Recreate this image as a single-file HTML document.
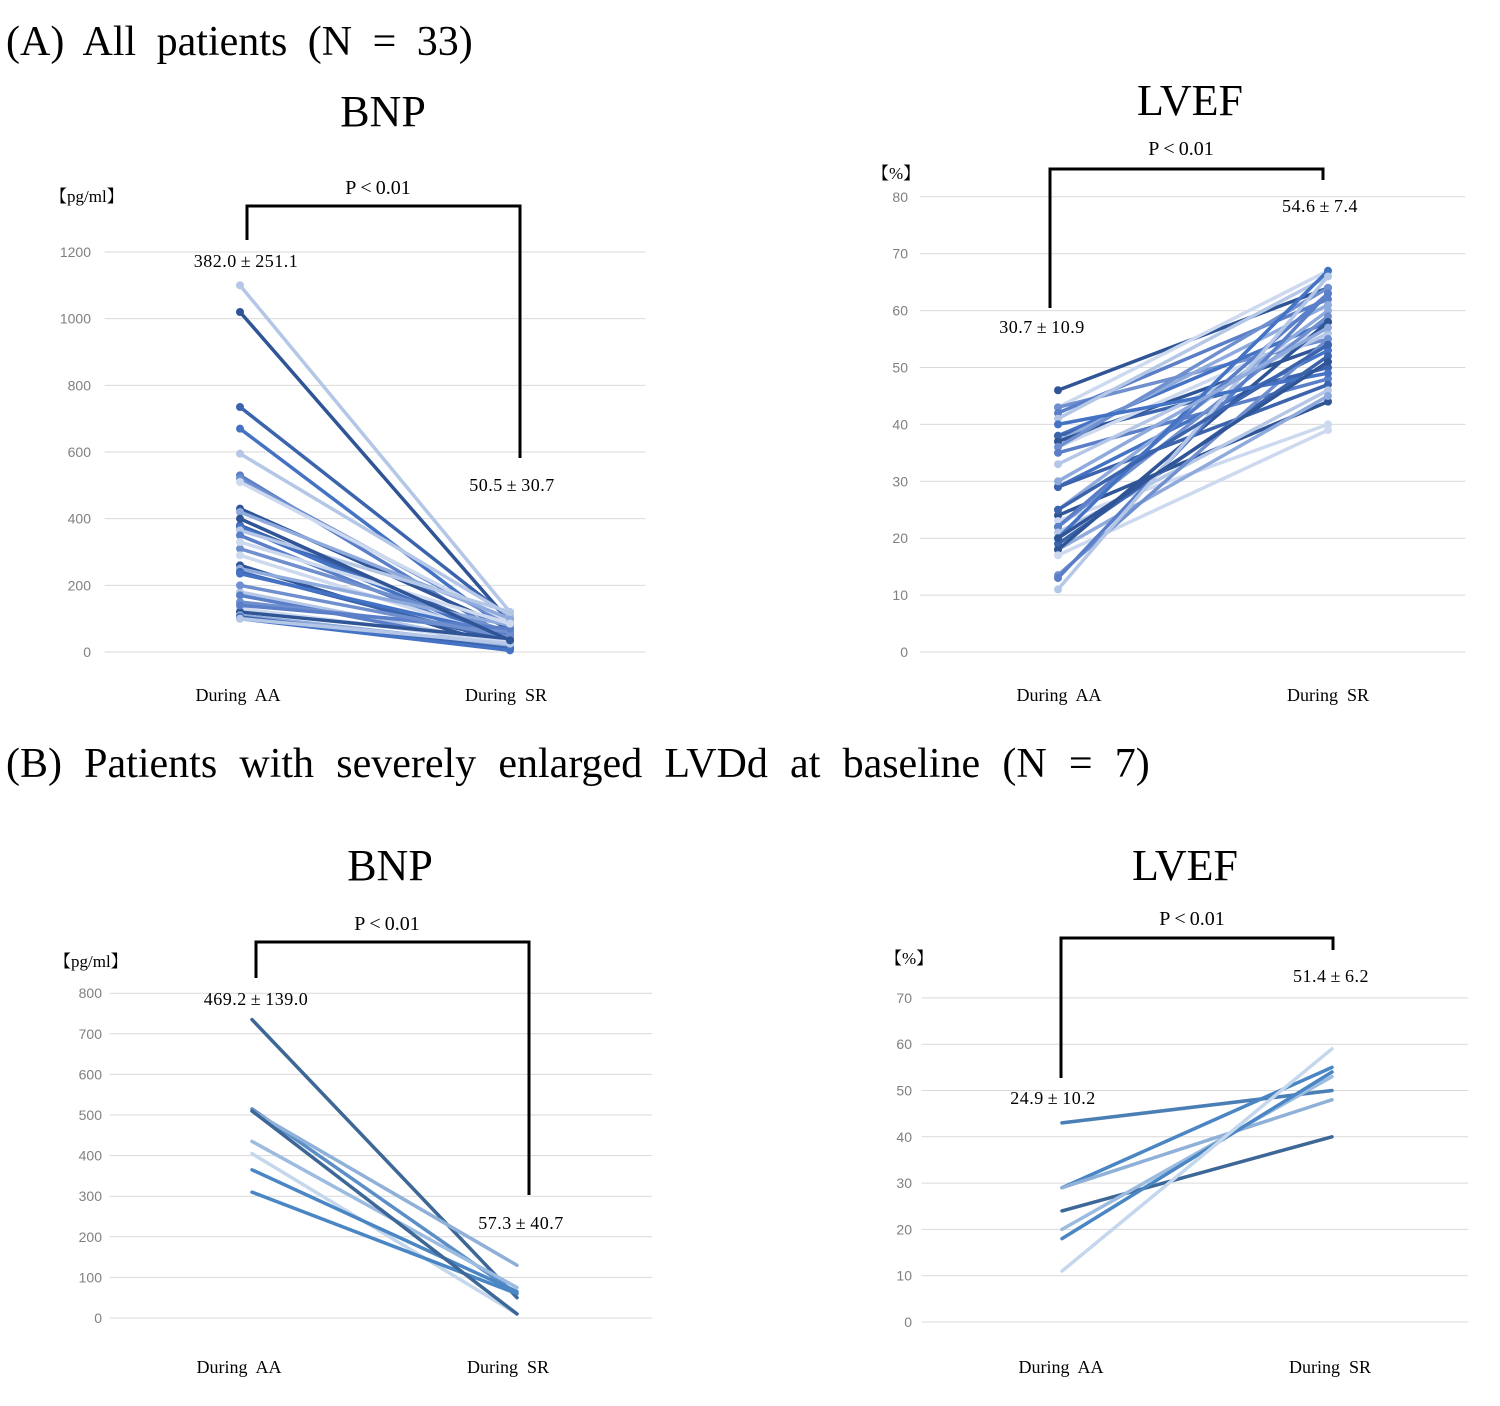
<!DOCTYPE html>
<html><head><meta charset="utf-8"><style>
html,body{margin:0;padding:0;background:#fff;width:1500px;height:1406px;overflow:hidden}
svg text{font-family:"Liberation Serif","Noto Serif CJK SC",serif;fill:#000}
.t{font-family:"Liberation Sans",sans-serif;fill:#808080;font-size:14px}
.n{letter-spacing:0.5px}
</style></head><body>
<svg id="s" width="1500" height="1406" xmlns="http://www.w3.org/2000/svg">
<text x="6" y="55" font-size="42" word-spacing="10">(A) All patients (N = 33)</text>
<text x="6" y="777" font-size="42" word-spacing="11.7">(B) Patients with severely enlarged LVDd at baseline (N = 7)</text>
<text x="383" y="126" font-size="44" text-anchor="middle">BNP</text>
<text x="1190" y="115" font-size="44" text-anchor="middle">LVEF</text>
<text x="390" y="880" font-size="44" text-anchor="middle">BNP</text>
<text x="1185" y="880" font-size="44" text-anchor="middle">LVEF</text>
<g id="g"></g>
</svg>
<script>
var g=document.getElementById('g'),h='';
function L(x1,y1,x2,y2,c,w){h+='<line x1="'+x1+'" y1="'+y1+'" x2="'+x2+'" y2="'+y2+'" stroke="'+c+'" stroke-width="'+w+'" stroke-linecap="round"/>';}
function T(x,y,s,sz,a,cl){h+='<text x="'+x+'" y="'+y+'" font-size="'+sz+'" text-anchor="'+(a||'middle')+'"'+(cl?' class="'+cl+'"':'')+'>'+s+'</text>';}
function grid(x0,x1,y0,step,n,lab,lx,d){for(var i=0;i<=n;i++){var y=y0-i*step;L(x0,y,x1,y,'#d9d9d9',1);T(lx,y+5,i*d,14,'end','t');}}
function br(xa,ya,xb,yb,top){h+='<polyline points="'+xa+','+ya+' '+xa+','+top+' '+xb+','+top+' '+xb+','+yb+'" fill="none" stroke="#000" stroke-width="3"/>';}
function PM(a,b){return a+'\u2009±\u2009'+b;}
var P='P\u2009&lt;\u20090.01';
var cols=['#2f5597','#4472c4','#6f8fcf','#8faadc','#b4c7e7','#cdd9ef','#3b64ad','#5a7fc8'];
// A BNP
grid(105,645,652,66.67,6,0,91,200);
var aa=[1100,1020,735,670,595,530,520,510,430,420,380,375,365,350,310,290,260,250,240,235,180,170,150,130,120,110,105,100,100,140,200,330,400];
var sr=[120,90,100,60,110,40,80,90,70,100,50,30,120,20,60,40,10,80,30,50,20,15,60,30,40,20,10,5,25,70,45,85,35];
var cy=function(v){return 652-v*400/1200};
for(var i=0;i<aa.length;i++){var c=i==0?'#b4c7e7':(i==1?'#2f5597':cols[(i*3)%8]);L(240,cy(aa[i]),510,cy(sr[i]),c,3.5);h+='<circle cx="240" cy="'+cy(aa[i])+'" r="4" fill="'+c+'"/><circle cx="510" cy="'+cy(sr[i])+'" r="4" fill="'+c+'"/>';}
br(247,240,520,458,206);T(378,194,P,20);T(246,267,PM('382.0','251.1'),18,'middle','n');T(512,491,PM('50.5','30.7'),18,'middle','n');
T(50,202,'【pg/ml】',17,'start');T(238,701,'During&#160; AA',18);T(506,701,'During&#160; SR',18);
// A LVEF
grid(920,1465,652,56.9,8,0,908,10);
var a2=[46,43,43,42,41,38,38,37,37,36,36,35,33,29,29,25,24,23,22,22,21,20,19,18,18,17,13.5,13,11,40,25,30,20];
var s2=[64,67,55,62,66,58,50,61,54,57,64,48,56,53,47,60,44,40,59,63,46,67,52,45,58,39,55,63,66,49,54,57,51];
var cy2=function(v){return 652-v*5.69};
for(var i=0;i<a2.length;i++){var c=cols[(i*5)%8];L(1058,cy2(a2[i]),1328,cy2(s2[i]),c,3.5);h+='<circle cx="1058" cy="'+cy2(a2[i])+'" r="4" fill="'+c+'"/><circle cx="1328" cy="'+cy2(s2[i])+'" r="4" fill="'+c+'"/>';}
br(1050,308,1323,180,169);T(1181,155,P,20);T(1042,333,PM('30.7','10.9'),18,'middle','n');T(1320,212,PM('54.6','7.4'),18,'middle','n');
T(872,179,'【%】',17,'start');T(1059,701,'During&#160; AA',18);T(1328,701,'During&#160; SR',18);
// B BNP
grid(110,652,1318,40.6,8,0,102,100);
var b=[[735,50,'#3d6796'],[515,60,'#5b8ec6'],[510,130,'#8fb0d8'],[435,75,'#9bbbe0'],[405,10,'#c5d7ec'],[365,65,'#4a86c4'],[310,60,'#4a86c4'],[510,10,'#3d6796']];
var cy3=function(v){return 1318-v*0.406};
b.forEach(function(p){L(252,cy3(p[0]),517,cy3(p[1]),p[2],3.5);});
br(256,978,529,1195,942);T(387,930,P,20);T(256,1005,PM('469.2','139.0'),18,'middle','n');T(521,1229,PM('57.3','40.7'),18,'middle','n');
T(54,967,'【pg/ml】',17,'start');T(239,1373,'During&#160; AA',18);T(508,1373,'During&#160; SR',18);
// B LVEF
grid(922,1468,1322,46.3,7,0,912,10);
var e=[[43,50,'#4a7fb5'],[29,55,'#4a86c4'],[29,48,'#8fb0d8'],[24,40,'#3d6796'],[20,53,'#9bbbe0'],[18,54,'#4a86c4'],[11,59,'#c5d7ec']];
var cy4=function(v){return 1322-v*4.63};
e.forEach(function(p){L(1062,cy4(p[0]),1332,cy4(p[1]),p[2],3.5);});
br(1061,1078,1333,950,938);T(1192,925,P,20);T(1053,1104,PM('24.9','10.2'),18,'middle','n');T(1331,982,PM('51.4','6.2'),18,'middle','n');
T(885,964,'【%】',17,'start');T(1061,1373,'During&#160; AA',18);T(1330,1373,'During&#160; SR',18);
g.innerHTML=h;
</script>
</body></html>
